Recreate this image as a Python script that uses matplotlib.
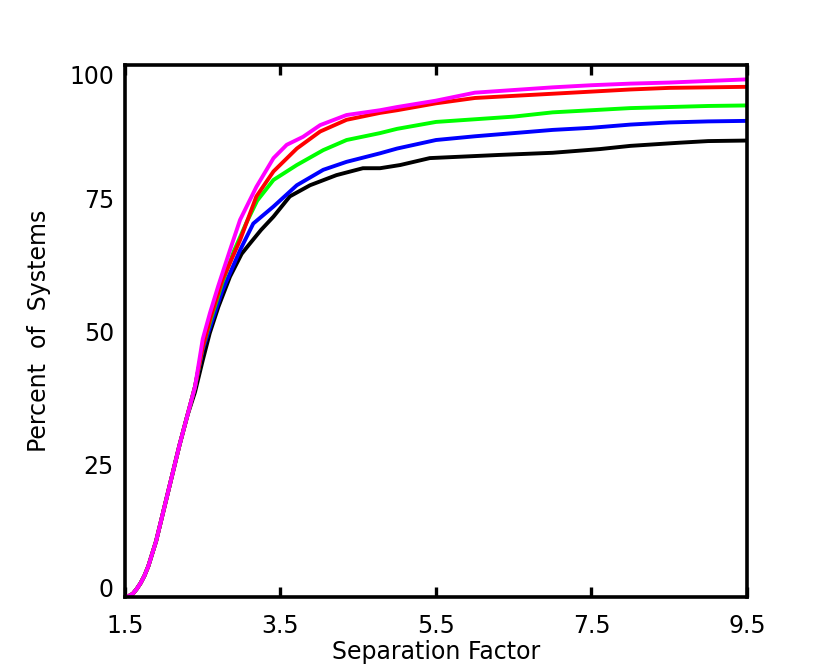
import matplotlib
matplotlib.use('Agg')
import matplotlib.pyplot as plt

# Cumulative percent of systems vs separation factor
base_x = [1.50, 1.55, 1.60, 1.65, 1.70, 1.75, 1.80, 1.90, 2.00, 2.10, 2.20, 2.30, 2.40]
base_y = [0.0, 0.2, 0.6, 1.5, 2.6, 4.0, 5.8, 10.5, 16.5, 22.5, 28.5, 34.0, 39.5]

black_x = base_x[:-1] + [2.40, 2.50, 2.59, 2.70, 2.85, 3.00, 3.11, 3.25, 3.41, 3.62, 3.88, 4.22, 4.56,
                         4.78, 5.04, 5.42, 6.32, 7.00, 7.61, 8.00, 8.64, 9.00, 9.50]
black_y = base_y[:-1] + [38.5, 44.5, 49.6, 54.5, 60.2, 64.5, 66.5, 69.0, 71.5, 75.3, 77.4, 79.3, 80.6,
                         80.6, 81.2, 82.5, 83.1, 83.5, 84.2, 84.8, 85.4, 85.7, 85.8]

blue_x = base_x + [2.50, 2.60, 2.75, 2.98, 3.15, 3.41, 3.71, 4.05, 4.35, 4.78, 5.00, 5.50, 6.00,
                   6.50, 7.00, 7.50, 8.00, 8.50, 9.00, 9.50]
blue_y = base_y + [46.5, 51.0, 57.5, 65.2, 70.2, 73.4, 77.4, 80.3, 81.8, 83.4, 84.3, 85.9, 86.6,
                   87.2, 87.8, 88.2, 88.8, 89.2, 89.4, 89.5]

green_x = base_x + [2.50, 2.60, 2.75, 2.90, 3.06, 3.20, 3.41, 3.71, 4.05, 4.35, 4.78, 5.00, 5.50,
                    6.00, 6.50, 7.00, 7.50, 8.00, 8.50, 9.00, 9.50]
green_y = base_y + [47.0, 52.0, 59.0, 65.0, 70.3, 74.5, 78.4, 81.2, 84.0, 85.9, 87.2, 88.0, 89.3,
                    89.8, 90.3, 91.1, 91.5, 91.9, 92.1, 92.3, 92.4]

red_x = base_x + [2.50, 2.60, 2.75, 2.98, 3.19, 3.41, 3.71, 4.01, 4.35, 4.78, 5.00, 5.50, 6.00,
                  6.50, 7.00, 7.50, 8.00, 8.50, 9.00, 9.50]
red_y = base_y + [47.0, 52.5, 59.5, 67.1, 75.3, 80.0, 84.3, 87.5, 89.7, 91.0, 91.5, 92.8, 93.8,
                  94.2, 94.6, 95.0, 95.4, 95.7, 95.8, 95.9]

magenta_x = base_x + [2.50, 2.593, 2.70, 2.85, 2.98, 3.19, 3.41, 3.58, 3.79, 4.01, 4.35, 4.78, 5.00,
                      5.50, 6.00, 6.50, 7.00, 7.50, 8.00, 8.50, 9.00, 9.50]
magenta_y = base_y + [48.5, 53.4, 58.5, 65.2, 70.9, 77.1, 82.5, 85.0, 86.5, 88.7, 90.6, 91.5, 92.1,
                      93.3, 94.8, 95.3, 95.8, 96.2, 96.5, 96.7, 97.0, 97.3]

x_ticks = [1.5, 3.5, 5.5, 7.5, 9.5]
x_tick_labels = ['1.5', '3.5', '5.5', '7.5', '9.5']
y_ticks = [0, 25, 50, 75, 100]
y_tick_labels = ['0', '25', '50', '75', '100']

fig = plt.figure(figsize=(8.3, 6.64), dpi=100)
ax = fig.add_axes([0.1506, 0.1009, 0.7494, 0.8012])

series = [(black_x, black_y, 'black'), (blue_x, blue_y, '#0000ff'), (green_x, green_y, '#00ff00'),
          (red_x, red_y, '#ff0000'), (magenta_x, magenta_y, '#ff00ff')]
for xs, ys, col in series:
    ax.plot(xs, ys, color=col, linewidth=2.8, solid_joinstyle='round')

ax.set_xlim(1.5, 9.5)
ax.set_ylim(0, 100)

for sp in ax.spines.values():
    sp.set_linewidth(2.6)

ax.set_xticks(x_ticks)
ax.set_xticklabels(x_tick_labels)
ax.set_yticks(y_ticks)
ax.set_yticklabels(y_tick_labels)
ax.tick_params(axis='x', direction='in', length=7, width=2.4, top=True, pad=12, labelsize=17)
ax.tick_params(axis='y', length=0, pad=8, labelsize=17)

# IDL-style placement of the end labels
ylabels = ax.get_yticklabels()
ylabels[0].set_va('baseline')
ylabels[-1].set_va('top')

ax.set_xlabel('Separation Factor', fontsize=17, labelpad=2)
ax.set_ylabel('Percent  of  Systems', fontsize=17, labelpad=13)

fig.savefig('out.png', dpi=100)
